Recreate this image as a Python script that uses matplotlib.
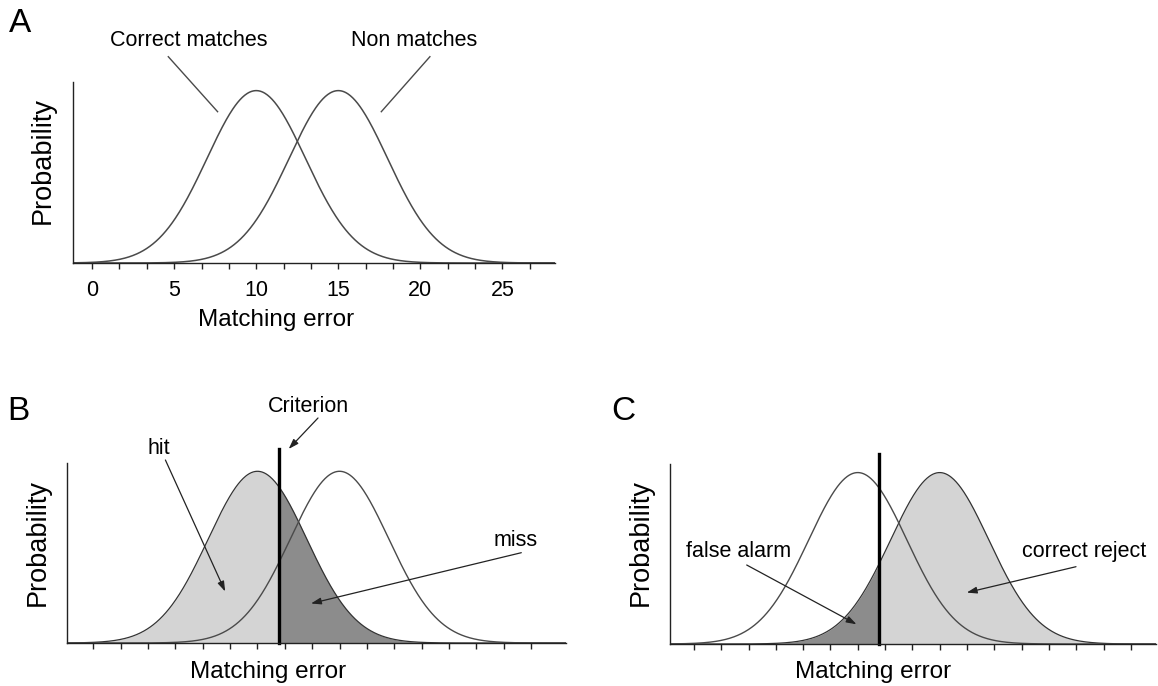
import numpy as np
import matplotlib.pyplot as plt

plt.rcParams['font.family'] = ['Liberation Sans', 'DejaVu Sans']

# distribution parameters
means = [10, 15]          # correct matches, non matches
sds = [3.0, 3.0]
criterion = 11.3
tick_labels = [0, 5, 10, 15, 20, 25]
minor_step = 5 / 3

W, H = 1158, 686
fig = plt.figure(figsize=(W / 100, H / 100), dpi=100)


def fx(x):
    return x / W


def fy(y):
    return 1 - y / H


def curve(x, m, s):
    return np.exp(-0.5 * ((x - m) / s) ** 2)


def setup(ax, xlim, show_labels):
    ax.set_xlim(*xlim)
    ax.set_ylim(0, 1.05)
    for s in ['top', 'right']:
        ax.spines[s].set_visible(False)
    for s in ['left', 'bottom']:
        ax.spines[s].set_color('#222222')
        ax.spines[s].set_linewidth(1.0)
    ax.set_yticks([])
    ax.set_xticks(tick_labels)
    ax.set_xticks(np.arange(0, 27, minor_step), minor=True)
    ax.tick_params(axis='x', which='both', length=4, width=1, color='#222222',
                   direction='out', labelsize=15.5, pad=8)
    if not show_labels:
        ax.set_xticklabels([])


line_col = '#4a4a4a'
light = '#d4d4d4'
dark = '#8c8c8c'

# ---- panel A
axA = fig.add_axes([fx(72.7), fy(263), fx(555 - 72.7), (263 - 82) / H])
xa = np.linspace(-1.2, 28.2, 600)
setup(axA, (-1.18, 28.2), True)
for m, s in zip(means, sds):
    axA.plot(xa, curve(xa, m, s), color=line_col, lw=1.1)

# ---- panel B
axB = fig.add_axes([fx(67.3), fy(643), fx(566 - 67.3), (643 - 462.7) / H])
xb = np.linspace(-1.6, 28.8, 800)
setup(axB, (-1.59, 28.8), False)
yb = curve(xb, means[0], sds[0])
axB.fill_between(xb, 0, yb, where=xb <= criterion, color=light, lw=0)
axB.fill_between(xb, 0, yb, where=xb >= criterion, color=dark, lw=0)
axB.plot(xb, yb, color='#333333', lw=0.9)
axB.plot(xb, curve(xb, means[1], sds[1]), color=line_col, lw=1.0)
axB.axvline(criterion, ymin=0, ymax=1.075, color='black', lw=2.4, clip_on=False)

# ---- panel C
axC = fig.add_axes([fx(670), fy(644), fx(1156 - 670), 180 / H])
xc = np.linspace(-1.5, 28.2, 800)
setup(axC, (-1.46, 28.2), False)
yc = curve(xc, means[1], sds[1])
axC.fill_between(xc, 0, yc, where=xc <= criterion, color=dark, lw=0)
axC.fill_between(xc, 0, yc, where=xc >= criterion, color=light, lw=0)
axC.plot(xc, yc, color='#333333', lw=0.9)
axC.plot(xc, curve(xc, means[0], sds[0]), color=line_col, lw=1.0)
axC.axvline(criterion, ymin=0, ymax=1.055, color='black', lw=2.4, clip_on=False)

# ---- text
def label(x, y, s, size=15.5, **kw):
    fig.text(fx(x), fy(y), s, fontsize=size, ha='center', va='center', **kw)


label(20.5, 24, 'A', size=24)
label(18, 411, 'B', size=24)
label(623, 412, 'C', size=24)

label(189, 41, 'Correct matches')
label(414.5, 41, 'Non matches')
fig.lines.append(plt.Line2D([fx(168.3), fx(217.6)], [fy(56.7), fy(111.7)],
                            transform=fig.transFigure, color=line_col, lw=1.0))
fig.lines.append(plt.Line2D([fx(429.9), fx(381.3)], [fy(56.7), fy(111.7)],
                            transform=fig.transFigure, color=line_col, lw=1.0))

for x, y in [(43, 160), (37.5, 542), (641, 542)]:
    label(x, y, 'Probability', size=19.5, rotation=90)
for x, y in [(276, 320), (268, 672), (873, 672)]:
    label(x, y, 'Matching error', size=17.5)

label(308, 406, 'Criterion')
label(158.5, 449, 'hit')
label(515.6, 540, 'miss')
label(738.5, 551.7, 'false alarm')
label(1083.7, 551.7, 'correct reject')

arrow = dict(arrowstyle='-|>,head_length=0.6,head_width=0.2', color='#222222',
             lw=0.9, shrinkA=0, shrinkB=0)
axB.annotate('', xy=(11.9, 1.13), xytext=(fx(318), fy(418)),
             textcoords='figure fraction', arrowprops=arrow, annotation_clip=False)
axB.annotate('', xy=(8.03, 0.30), xytext=(fx(165.4), fy(460)),
             textcoords='figure fraction', arrowprops=arrow)
axB.annotate('', xy=(13.26, 0.23), xytext=(fx(521.3), fy(552.7)),
             textcoords='figure fraction', arrowprops=arrow)
axC.annotate('', xy=(9.92, 0.115), xytext=(fx(746.7), fy(565)),
             textcoords='figure fraction', arrowprops=arrow)
axC.annotate('', xy=(16.65, 0.30), xytext=(fx(1076), fy(566.7)),
             textcoords='figure fraction', arrowprops=arrow)

fig.savefig('out.png', dpi=100)
